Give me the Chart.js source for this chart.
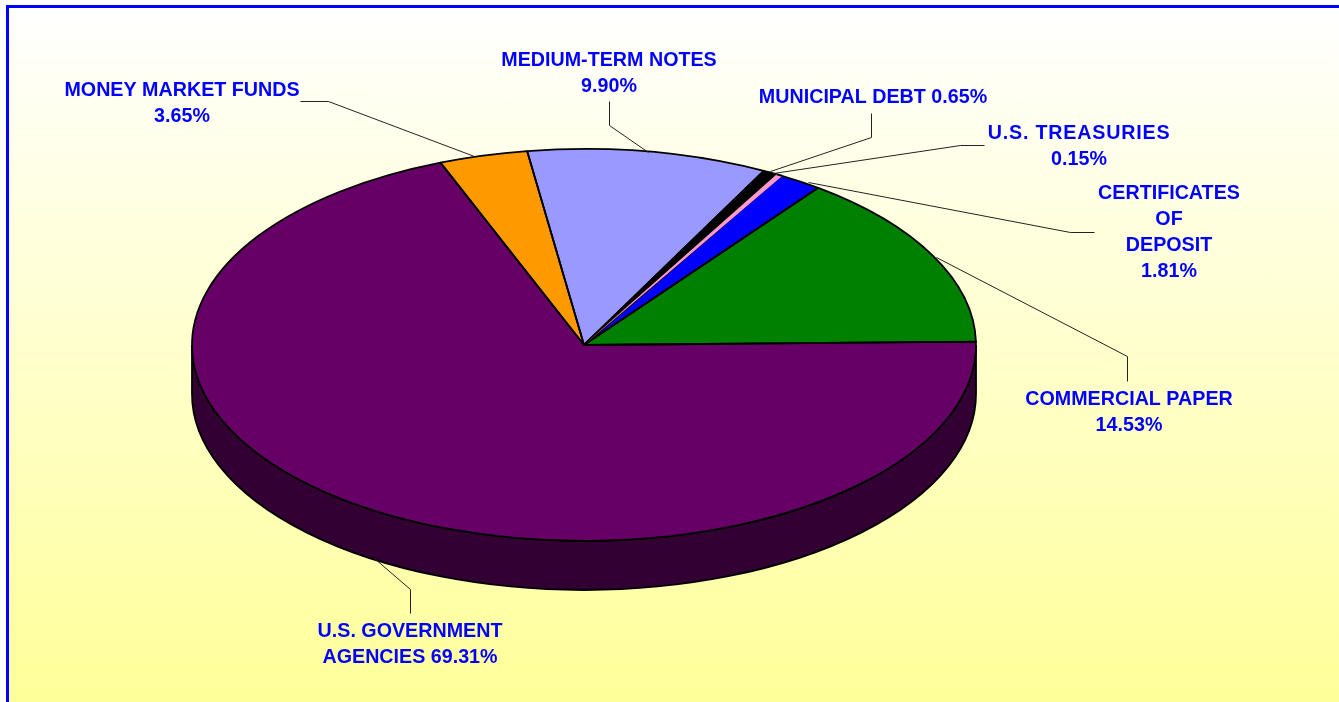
<!DOCTYPE html>
<html>
<head>
<meta charset="utf-8">
<title>Portfolio composition</title>
<script src="https://cdn.jsdelivr.net/npm/chart.js@4"></script>
<style>
html, body { margin: 0; padding: 0; width: 1339px; height: 702px; overflow: hidden; background: #fff; }
#panel { position: absolute; left: 6px; top: 5px; width: 1400px; height: 720px; box-sizing: border-box;
    border: 3px solid #0000ff; background: linear-gradient(to bottom, #ffffff 0%, #ffff99 97%); }
#chart { position: absolute; left: 0; top: 0; }
</style>
</head>
<body>
<div id="panel"></div>
<canvas id="chart" width="1339" height="702"></canvas>
<script>
// 数据
const categories = ['U.S. GOVERNMENT AGENCIES', 'MONEY MARKET FUNDS', 'MEDIUM-TERM NOTES', 'MUNICIPAL DEBT', 'U.S. TREASURIES', 'CERTIFICATES OF DEPOSIT', 'COMMERCIAL PAPER'];
const values = [69.31, 3.65, 9.90, 0.65, 0.15, 1.81, 14.53];
const sliceColors = ['#660066', '#ff9900', '#9999ff', '#000000', '#ff99cc', '#0000ff', '#008000'];
const wallColors = ['#330033', '#804d00', '#4d4d80', '#000000', '#804d66', '#000080', '#004000'];

// 标签文字和引线
const labelLines = [
    ['U.S. GOVERNMENT', 'AGENCIES 69.31%'],
    ['MONEY MARKET FUNDS', '3.65%'],
    ['MEDIUM-TERM NOTES', '9.90%'],
    ['MUNICIPAL DEBT 0.65%'],
    ['U.S. TREASURIES', '0.15%'],
    ['CERTIFICATES', 'OF', 'DEPOSIT', '1.81%'],
    ['COMMERCIAL PAPER', '14.53%']
];
const labelCenters = [[410, 632], [182, 91], [609, 61], [873, 98], [1079, 134], [1169, 194], [1129, 400]];
const leaders = [
    [[410, 613], [410, 589], [374, 558]],
    [[300, 101], [328, 101], [474, 156]],
    [[609, 101], [609, 125], [648, 152]],
    [[871, 113], [871, 137], [770, 171]],
    [[984, 145], [960, 145], [773, 173]],
    [[1094, 232], [1070, 232], [808, 182]],
    [[1127, 381], [1127, 356], [936, 257]]
];

const TILT = 0.5;    // 椭圆压缩比例
const DEPTH = 49;    // 饼图厚度
const EDGE = 1.8;
const THIN_SWEEP = 0.016;    // 极小扇区的最小显示角度

// 把库算好的圆形扇区压成椭圆，再补上侧面
const tiltedPie = {
    id: 'tiltedPie',
    beforeDatasetsDraw(chart) {
        const ctx = chart.ctx;
        chart.getDatasetMeta(0).data.forEach((arc, i) => {
            const a = Math.max(arc.startAngle, 0);
            const b = Math.min(arc.endAngle, Math.PI);
            if (a >= b) return;
            const ry = arc.outerRadius * TILT;
            ctx.beginPath();
            ctx.ellipse(arc.x, arc.y, arc.outerRadius, ry, 0, a, b);
            ctx.ellipse(arc.x, arc.y + DEPTH, arc.outerRadius, ry, 0, b, a, true);
            ctx.closePath();
            ctx.fillStyle = wallColors[i];
            ctx.fill();
            ctx.lineWidth = EDGE;
            ctx.strokeStyle = '#000';
            ctx.stroke();
        });
        const c = chart.getDatasetMeta(0).data[0];
        ctx.save();
        ctx.translate(c.x, c.y);
        ctx.scale(1, TILT);
        ctx.translate(-c.x, -c.y);
    },
    afterDatasetsDraw(chart) {
        const ctx = chart.ctx;
        ctx.restore();

        // 描边放在变换之外，线宽才均匀
        const arcs = chart.getDatasetMeta(0).data;
        arcs.forEach(arc => {
            ctx.beginPath();
            ctx.moveTo(arc.x, arc.y);
            ctx.ellipse(arc.x, arc.y, arc.outerRadius, arc.outerRadius * TILT, 0, arc.startAngle, arc.endAngle);
            ctx.closePath();
            ctx.lineWidth = EDGE;
            ctx.lineJoin = 'round';
            ctx.strokeStyle = '#000';
            ctx.stroke();
        });

        // 极小扇区会被描边盖住，单独补一层
        arcs.forEach((arc, i) => {
            if (arc.endAngle - arc.startAngle >= THIN_SWEEP) return;
            const mid = (arc.startAngle + arc.endAngle) / 2;
            const a = mid - THIN_SWEEP / 2;
            const b = mid + THIN_SWEEP / 2;
            const ry = arc.outerRadius * TILT;
            ctx.beginPath();
            ctx.moveTo(arc.x, arc.y);
            ctx.ellipse(arc.x, arc.y, arc.outerRadius, ry, 0, a, b);
            ctx.closePath();
            ctx.fillStyle = sliceColors[i];
            ctx.fill();
            ctx.beginPath();
            ctx.ellipse(arc.x, arc.y, arc.outerRadius, ry, 0, a, b);
            ctx.stroke();
        });

        // 引线
        ctx.lineWidth = 1;
        ctx.strokeStyle = '#222';
        leaders.forEach(pts => {
            ctx.beginPath();
            pts.forEach((p, i) => i ? ctx.lineTo(p[0] + 0.5, p[1] + 0.5) : ctx.moveTo(p[0] + 0.5, p[1] + 0.5));
            ctx.stroke();
        });

        // 标签
        ctx.font = 'bold 19.7px "Liberation Sans", Arial, sans-serif';
        ctx.fillStyle = '#0000ff';
        ctx.textAlign = 'center';
        ctx.textBaseline = 'middle';
        labelLines.forEach((lines, i) => {
            lines.forEach((text, j) => {
                ctx.letterSpacing = text === 'U.S. TREASURIES' ? '0.8px' : '0px';
                ctx.fillText(text, labelCenters[i][0], labelCenters[i][1] + j * 25.8);
            });
        });
    }
};

new Chart(document.getElementById('chart').getContext('2d'), {
    type: 'pie',
    data: {
        labels: categories,
        datasets: [{
            data: values,
            backgroundColor: sliceColors,
            borderWidth: 0,
            clip: false
        }]
    },
    options: {
        responsive: false,
        animation: false,
        radius: 392,
        rotation: 89,
        layout: { padding: { left: 0, top: 0, right: 171, bottom: 12 } },
        plugins: { legend: { display: false }, tooltip: { enabled: false } }
    },
    plugins: [tiltedPie]
});
</script>
</body>
</html>
